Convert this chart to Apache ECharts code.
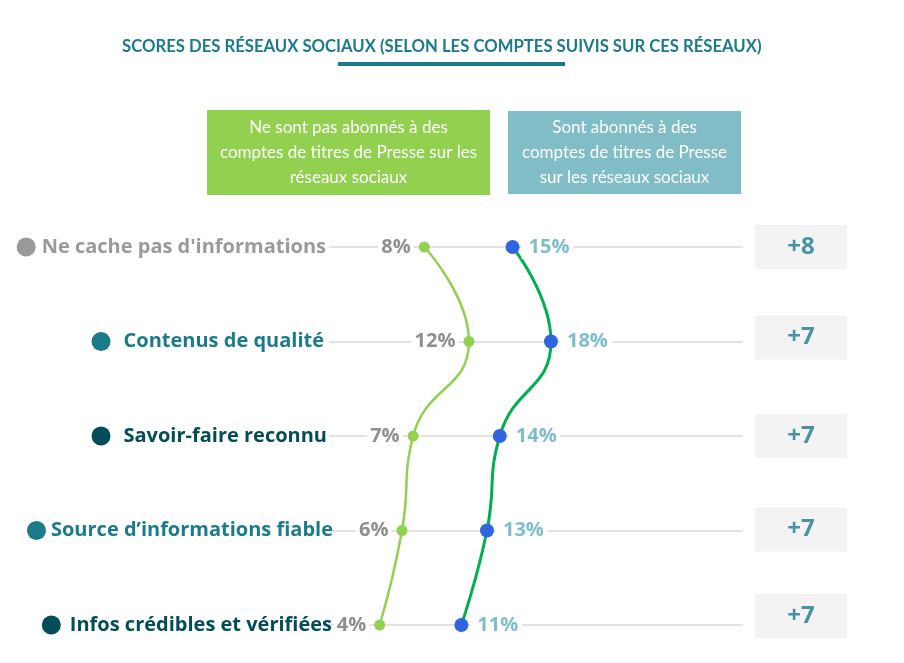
<!DOCTYPE html>
<html>
<head>
<meta charset="utf-8">
<script src="https://cdn.jsdelivr.net/npm/echarts@6/dist/echarts.min.js"></script>
<style>html,body{margin:0;padding:0;background:#fff}#c{width:904px;height:663px}</style>
</head>
<body>
<div id="c"></div>
<script>
const categories = ["Ne cache pas d'informations", "Contenus de qualité", "Savoir-faire reconnu", "Source d’informations fiable", "Infos crédibles et vérifiées"];
const nonAbonnes = [8, 12, 7, 6, 4];
const abonnes = [15, 18, 14, 13, 11];
const ecarts = ["+8", "+7", "+7", "+7", "+7"];
const headerNon = "Ne sont pas abonnés à des\ncomptes de titres de Presse sur les\nréseaux sociaux";
const headerAbo = "Sont abonnés à des\ncomptes de titres de Presse\nsur les réseaux sociaux";
const titleText = "SCORES DES RÉSEAUX SOCIAUX (SELON LES COMPTES SUIVIS SUR CES RÉSEAUX)";

// styling only
const OS = "'Open Sans', sans-serif";
const rowColors = ['#9a9a9a', '#1b7b8b', '#034d58', '#1b7b8b', '#034d58'];
const rowGaps = [6, 13, 13, 5, 9];
const rowPadRight = [7, 9, 6, 0, 1];
const boxShift = [0, -4, 0, -1, -9];
const rich = {};
rowColors.forEach((col, i) => {
  rich['c' + i] = {width: 19, height: 19, borderRadius: 10, backgroundColor: col};
  rich['t' + i] = {color: col, fontSize: 20, fontWeight: 'bold', fontFamily: OS, padding: [0, rowPadRight[i], 0, rowGaps[i]]};
});

const chart = echarts.init(document.getElementById('c'), null, {renderer: 'canvas'});
const option = {
  backgroundColor: '#fff',
  animation: false,
  title: {
    text: titleText, left: 117, top: 33,
    textStyle: {fontFamily: 'Lato', fontWeight: 'bold', fontSize: 16.7, color: '#1b7b8b'}
  },
  graphic: [
    {type: 'rect', shape: {x: 338, y: 62, width: 227, height: 4}, style: {fill: '#1b7b8b'}},
    {type: 'rect', shape: {x: 207, y: 110, width: 283, height: 85}, style: {fill: '#92d050'}},
    {type: 'text', x: 348.5, y: 152.5, style: {text: headerNon, fill: '#fff', font: '17px Lato', align: 'center', verticalAlign: 'middle', lineHeight: 25}},
    {type: 'rect', shape: {x: 508, y: 111, width: 233, height: 83}, style: {fill: '#80bdc7'}},
    {type: 'text', x: 624.5, y: 152.5, style: {text: headerAbo, fill: '#fff', font: '17px Lato', align: 'center', verticalAlign: 'middle', lineHeight: 25}}
  ],
  grid: [
    {left: 329, width: 414, top: 247, height: 378},
    {left: 755, width: 92, top: 247, height: 378}
  ],
  xAxis: [
    {gridIndex: 0, type: 'value', min: -0.54, max: 36.56, show: false},
    {gridIndex: 0, type: 'value', min: 0.66, max: 33.0, show: false},
    {gridIndex: 1, type: 'value', min: 0, max: 1, show: false}
  ],
  yAxis: [
    {
      gridIndex: 0, type: 'category', data: categories, inverse: true, boundaryGap: false,
      axisLine: {show: false}, axisTick: {show: false},
      splitLine: {show: true, interval: 0, lineStyle: {color: '#e2e2e2', width: 2}},
      axisLabel: {
        interval: 0, margin: -4, rich: rich,
        formatter: (v, i) => '{c' + i + '| }{t' + i + '|' + v + '}'
      }
    },
    {gridIndex: 1, type: 'category', data: categories, inverse: true, boundaryGap: false, show: false}
  ],
  series: [
    {
      type: 'line', xAxisIndex: 0, yAxisIndex: 0, smooth: 0.5,
      data: nonAbonnes.map((v, i) => [v, i]),
      symbol: 'circle', symbolSize: 11,
      itemStyle: {color: '#92d050'},
      lineStyle: {color: '#92d050', width: 2.5},
      label: {
        show: true, position: 'left', distance: 5,
        formatter: p => p.value[0] + '%',
        color: '#8f8f8f', fontSize: 20, fontWeight: 'bold', fontFamily: OS,
        backgroundColor: '#fff', padding: [2, 3]
      },
      z: 3
    },
    {
      type: 'line', xAxisIndex: 1, yAxisIndex: 0, smooth: 0.5,
      data: abonnes.map((v, i) => [v, i]),
      symbol: 'circle', symbolSize: 14,
      itemStyle: {color: '#2f66e0'},
      lineStyle: {color: '#00b050', width: 3},
      label: {
        show: true, position: 'right', distance: 2,
        formatter: p => p.value[0] + '%',
        color: '#7fbdca', fontSize: 20, fontWeight: 'bold', fontFamily: OS,
        backgroundColor: '#fff', padding: [2, 4, 2, 7]
      },
      z: 4
    },
    {
      type: 'scatter', xAxisIndex: 2, yAxisIndex: 1,
      data: ecarts.map((e, i) => ({
        value: [0.5, i],
        symbolOffset: [0, boxShift[i]]
      })),
      symbol: 'rect', symbolSize: [92, 44],
      itemStyle: {color: '#f0f0f0'},
      label: {
        show: true, position: 'inside',
        formatter: p => ecarts[p.dataIndex],
        color: '#1b7b8b', fontSize: 24, fontWeight: 'bold', fontFamily: OS
      }
    }
  ]
};
chart.setOption(option);
</script>
</body>
</html>
